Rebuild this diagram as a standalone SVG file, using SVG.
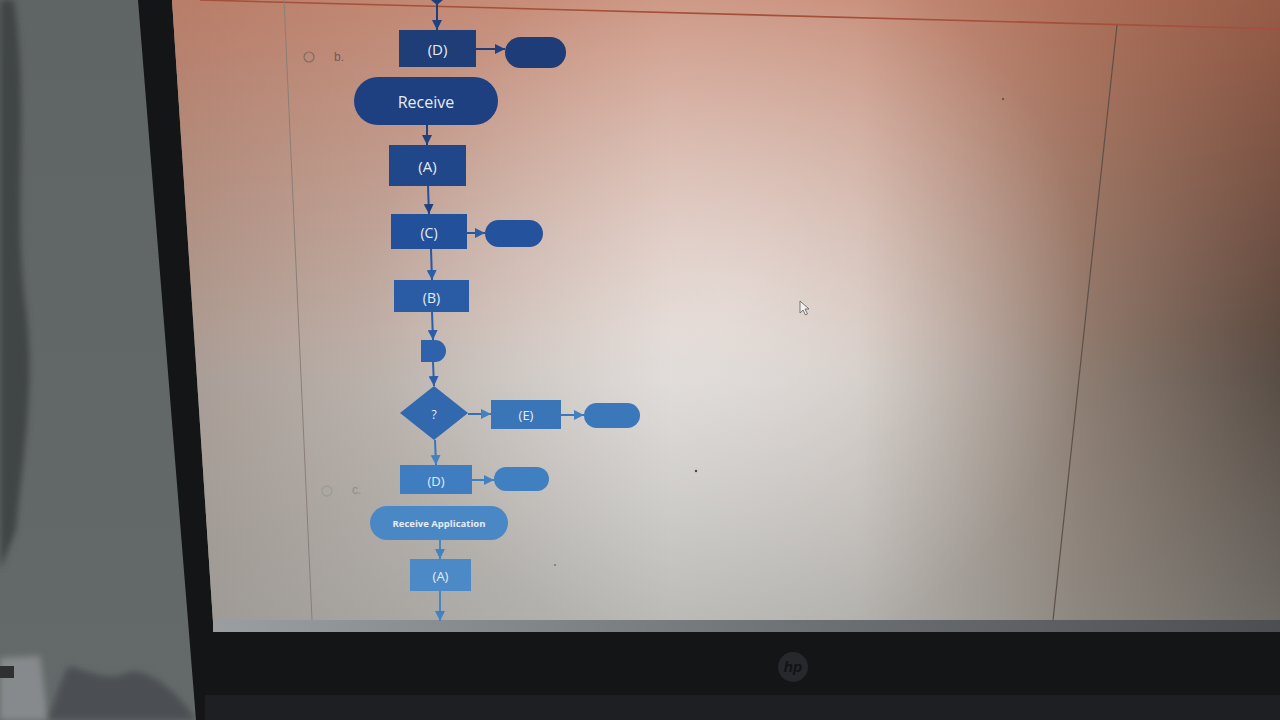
<svg xmlns="http://www.w3.org/2000/svg" width="1280" height="720" viewBox="0 0 1280 720">
<defs>
<style>
.lbl{font-family:"Open Sans","Noto Sans","Liberation Sans",sans-serif;fill:#e6ecf4;text-anchor:middle;dominant-baseline:central}
.cn{fill:none;stroke-width:2}
.opt{font-family:"Liberation Sans",Arial,sans-serif;font-size:12px}
</style>
<filter id="blur" x="-20%" y="-20%" width="140%" height="140%"><feGaussianBlur stdDeviation="3"/></filter>
<linearGradient id="wall" x1="0" y1="0" x2="0" y2="1">
<stop offset="0" stop-color="#5f6464"/><stop offset="1" stop-color="#646a6a"/>
</linearGradient>
<linearGradient id="scrH" x1="170" y1="0" x2="1280" y2="0" gradientUnits="userSpaceOnUse">
<stop offset="0" stop-color="#a99c94"/><stop offset="0.45" stop-color="#dcd6d2"/><stop offset="0.62" stop-color="#d2c9c3"/><stop offset="0.82" stop-color="#8e7c70"/><stop offset="1" stop-color="#554840"/>
</linearGradient>
<linearGradient id="warm" x1="0" y1="0" x2="0" y2="380" gradientUnits="userSpaceOnUse">
<stop offset="0" stop-color="#c2684a" stop-opacity="0.6"/><stop offset="1" stop-color="#c2684a" stop-opacity="0"/>
</linearGradient>
<linearGradient id="cool" x1="0" y1="330" x2="0" y2="622" gradientUnits="userSpaceOnUse">
<stop offset="0" stop-color="#8c9391" stop-opacity="0"/><stop offset="1" stop-color="#8c9391" stop-opacity="0.45"/>
</linearGradient>
<radialGradient id="glow" cx="730" cy="300" r="360" gradientUnits="userSpaceOnUse">
<stop offset="0" stop-color="#ffffff" stop-opacity="0.35"/><stop offset="1" stop-color="#ffffff" stop-opacity="0"/>
</radialGradient>
<linearGradient id="edge" x1="213" y1="0" x2="1280" y2="0" gradientUnits="userSpaceOnUse">
<stop offset="0" stop-color="#9a9ea0"/><stop offset="1" stop-color="#4c4e52"/>
</linearGradient>
<marker id="ahN" viewBox="0 0 10 10" refX="10" refY="5" markerWidth="10" markerHeight="10" markerUnits="userSpaceOnUse" orient="auto"><path d="M0,0 L10,5 L0,10 Z" fill="#1f4180"/></marker>
<marker id="ahM" viewBox="0 0 10 10" refX="10" refY="5" markerWidth="10" markerHeight="10" markerUnits="userSpaceOnUse" orient="auto"><path d="M0,0 L10,5 L0,10 Z" fill="#2a5ea8"/></marker>
<marker id="ahL" viewBox="0 0 10 10" refX="10" refY="5" markerWidth="10" markerHeight="10" markerUnits="userSpaceOnUse" orient="auto"><path d="M0,0 L10,5 L0,10 Z" fill="#4282c2"/></marker>
</defs>

<!-- room / wall -->
<rect x="0" y="0" width="1280" height="720" fill="url(#wall)"/>
<path d="M0,0 L14,0 C30,110 12,210 26,310 C36,390 22,460 16,530 L0,570 Z" fill="#414545" filter="url(#blur)"/>
<path d="M0,658 L40,656 L48,720 L0,720 Z" fill="#868a8c" filter="url(#blur)"/>
<rect x="0" y="666" width="14" height="12" fill="#2e3032"/>
<path d="M48,720 C58,690 64,670 70,666 C90,672 110,682 128,672 C150,668 178,692 196,720 Z" fill="#4c5052" filter="url(#blur)"/>

<!-- monitor bezel -->
<polygon points="138,0 172,0 213,622 1280,622 1280,720 196,720" fill="#141517"/>
<rect x="205" y="695" width="1075" height="25" fill="#1d1f22"/>

<!-- screen -->
<g id="screen">
<polygon points="172,0 1280,0 1280,622 213,622" fill="url(#scrH)"/>
<polygon points="172,0 1280,0 1280,622 213,622" fill="url(#warm)"/>
<polygon points="172,0 1280,0 1280,622 213,622" fill="url(#cool)"/>
<polygon points="172,0 1280,0 1280,622 213,622" fill="url(#glow)"/>
<polygon points="213,620 1280,620 1280,632 213,632" fill="url(#edge)"/>
<line x1="200" y1="0" x2="1280" y2="29" stroke="#a4503a" stroke-width="1.6"/>
<line x1="284" y1="0" x2="312" y2="620" stroke="#8a7f78" stroke-width="1"/>
<line x1="1117" y1="25" x2="1053" y2="620" stroke="#5e5048" stroke-width="1.2"/>
<circle cx="1003" cy="99" r="1.2" fill="#6a5a52"/>
<circle cx="696" cy="471" r="1.2" fill="#444"/>
<circle cx="555" cy="565" r="1" fill="#777"/>
<path d="M800,301 L800,313 L803,310 L805.5,315 L807.5,314 L805,309 L809,309 Z" fill="#f2f0ee" stroke="#5a5a5a" stroke-width="0.8"/>
</g>

<!-- answer options -->
<g id="option-b">
<circle cx="309" cy="57" r="5" fill="none" stroke="#7d6c66" stroke-width="1.2"/>
<text x="334" y="61" class="opt" fill="#6e5c56">b.</text>
</g>
<g id="option-c">
<circle cx="327" cy="491" r="5" fill="none" stroke="#9c9c98" stroke-width="1.3"/>
<text x="352" y="494" class="opt" font-size="10" fill="#8c8c89">c.</text>
</g>

<!-- connectors -->
<g id="connectors">
<polygon points="431,0 443,0 437,5" fill="#1f3f7c"/>
<path class="cn" d="M437,4 L437,30" stroke="#1f3f7c" marker-end="url(#ahN)"/>
<path class="cn" d="M476,49 L505,49" stroke="#1f3f7c" marker-end="url(#ahN)"/>
<path class="cn" d="M427,125 L427,145" stroke="#1f4180" marker-end="url(#ahN)"/>
<path class="cn" d="M428,186 L429,214" stroke="#23509a" marker-end="url(#ahN)"/>
<path class="cn" d="M467,233 L485,233" stroke="#2656a0" marker-end="url(#ahM)"/>
<path class="cn" d="M431,249 L432,280" stroke="#2658a2" marker-end="url(#ahM)"/>
<path class="cn" d="M432,312 L433,340" stroke="#2a5ea8" marker-end="url(#ahM)"/>
<path class="cn" d="M433,362 L434,386" stroke="#2e64ad" marker-end="url(#ahM)"/>
<path class="cn" d="M468,414 L491,414" stroke="#3570b4" marker-end="url(#ahL)"/>
<path class="cn" d="M561,415 L584,415" stroke="#3a78ba" marker-end="url(#ahL)"/>
<path class="cn" d="M435,440 L436,465" stroke="#3a76b8" marker-end="url(#ahL)"/>
<path class="cn" d="M472,480 L494,480" stroke="#4080c0" marker-end="url(#ahL)"/>
<path class="cn" d="M440,540 L440,559" stroke="#4686c4" marker-end="url(#ahL)"/>
<path class="cn" d="M440,591 L440,621" stroke="#4686c4" marker-end="url(#ahL)"/>
</g>

<!-- option b flowchart -->
<g id="node-d-top"><rect x="399" y="30" width="77" height="37" fill="#1f3d76"/><text x="437.5" y="49" class="lbl" font-size="15">(D)</text></g>
<g id="node-end-d-top"><rect x="505" y="37" width="61" height="31" rx="15.5" fill="#1e3c77"/></g>
<g id="node-receive"><rect x="354" y="77" width="144" height="48" rx="24" fill="#1e4080"/><text x="426" y="102" class="lbl" font-size="16">Receive</text></g>
<g id="node-a"><rect x="389" y="145" width="77" height="41" fill="#20478a"/><text x="427.5" y="166" class="lbl" font-size="15">(A)</text></g>
<g id="node-c"><rect x="391" y="214" width="76" height="35" fill="#23509b"/><text x="429" y="232" class="lbl" font-size="14">(C)</text></g>
<g id="node-end-c"><rect x="485" y="220" width="58" height="27" rx="13.5" fill="#24529c"/></g>
<g id="node-b"><rect x="394" y="280" width="75" height="32" fill="#2a5ca5"/><text x="431.5" y="297" class="lbl" font-size="14">(B)</text></g>
<g id="node-delay"><path d="M421,340 L435,340 A11,11 0 0 1 435,362 L421,362 Z" fill="#2e63ab"/></g>
<g id="node-decision"><polygon points="434,386 468,413 434,440 400,413" fill="#3168ae"/><text x="434" y="414" class="lbl" font-size="12">?</text></g>
<g id="node-e"><rect x="491" y="400" width="70" height="29" fill="#3a75b8"/><text x="526" y="415" class="lbl" font-size="13">(E)</text></g>
<g id="node-end-e"><rect x="584" y="403" width="56" height="25" rx="12.5" fill="#3b78ba"/></g>
<g id="node-d-bottom"><rect x="400" y="465" width="72" height="29" fill="#3f7dc0"/><text x="436" y="481" class="lbl" font-size="13">(D)</text></g>
<g id="node-end-d-bottom"><rect x="494" y="467" width="55" height="24" rx="12" fill="#4080c1"/></g>

<!-- option c flowchart -->
<g id="node-receive-application"><rect x="370" y="506" width="138" height="34" rx="17" fill="#4a88c5"/><text x="439" y="523" class="lbl" font-size="9.5" font-weight="bold">Receive Application</text></g>
<g id="node-a-c"><rect x="410" y="559" width="61" height="32" fill="#4b8ac6"/><text x="440.5" y="576" class="lbl" font-size="13">(A)</text></g>

<!-- hp logo -->
<g id="logo">
<circle cx="793" cy="667" r="15" fill="#26282c"/>
<text x="793" y="672" font-family="'Liberation Sans',Arial,sans-serif" font-size="15" font-style="italic" font-weight="bold" fill="#121316" text-anchor="middle">hp</text>
</g>
</svg>
